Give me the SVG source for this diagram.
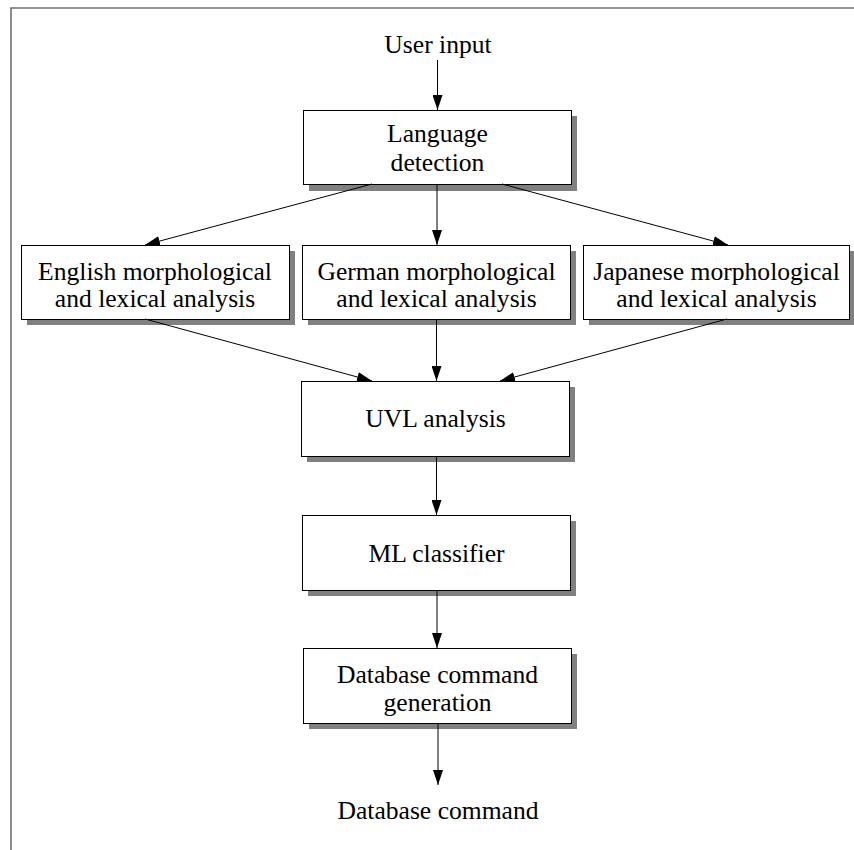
<svg xmlns="http://www.w3.org/2000/svg" width="854" height="850" viewBox="0 0 854 850">
<defs>
<style>
.box rect.b{fill:#fff;stroke:#000;stroke-width:1}
.box rect.s{fill:#808080;stroke:none}
text{font-family:"Liberation Serif","Times New Roman",serif;font-size:25.6px;fill:#000;text-anchor:middle}
#edges line{stroke:#000;stroke-width:1;marker-end:url(#ah)}
</style>
<marker id="ah" markerUnits="userSpaceOnUse" markerWidth="15" markerHeight="10" refX="15" refY="5" orient="auto">
<path d="M0,0 L15,5 L0,10 z" fill="#000"/>
</marker>
</defs>
<rect width="854" height="850" fill="#fff"/>
<path d="M11,850 V8 H854" fill="none" stroke="#707070" stroke-width="1.6"/>

<g id="user-input"><text x="438" y="53">User input</text></g>

<g id="lang" class="box">
<rect class="s" x="309" y="116" width="268" height="75"/>
<rect class="b" x="303.5" y="110.5" width="268" height="74"/>
<text x="437.5" y="142">Language</text>
<text x="437.5" y="171">detection</text>
</g>

<g id="english" class="box">
<rect class="s" x="27" y="251" width="268" height="74"/>
<rect class="b" x="21.5" y="245.5" width="268" height="74"/>
<text x="155" y="280">English morphological</text>
<text x="155" y="307">and lexical analysis</text>
</g>

<g id="german" class="box">
<rect class="s" x="308" y="251" width="268" height="74"/>
<rect class="b" x="302.5" y="245.5" width="268" height="74"/>
<text x="436.5" y="280">German morphological</text>
<text x="436.5" y="307">and lexical analysis</text>
</g>

<g id="japanese" class="box">
<rect class="s" x="589" y="251" width="266" height="74"/>
<rect class="b" x="583.5" y="245.5" width="266" height="74"/>
<text x="716.5" y="280">Japanese morphological</text>
<text x="716.5" y="307">and lexical analysis</text>
</g>

<g id="uvl" class="box">
<rect class="s" x="307" y="387" width="268" height="75"/>
<rect class="b" x="301.5" y="381.5" width="268" height="75"/>
<text x="435.5" y="427">UVL analysis</text>
</g>

<g id="ml" class="box">
<rect class="s" x="308" y="521" width="268" height="75"/>
<rect class="b" x="302.5" y="515.5" width="268" height="75"/>
<text x="436.5" y="562">ML classifier</text>
</g>

<g id="dbgen" class="box">
<rect class="s" x="309" y="654" width="268" height="75"/>
<rect class="b" x="303.5" y="648.5" width="268" height="75"/>
<text x="437.5" y="683">Database command</text>
<text x="437.5" y="711">generation</text>
</g>

<g id="dbcmd"><text x="438" y="819">Database command</text></g>

<g id="edges">
<line x1="437.5" y1="60" x2="437.5" y2="110"/>
<line x1="372" y1="184" x2="145" y2="245"/>
<line x1="437" y1="184" x2="437" y2="245"/>
<line x1="502" y1="184" x2="728" y2="245"/>
<line x1="145" y1="319" x2="372" y2="381"/>
<line x1="436.5" y1="319" x2="436.5" y2="381"/>
<line x1="727" y1="319" x2="500" y2="381"/>
<line x1="436.5" y1="456" x2="436.5" y2="515"/>
<line x1="437" y1="590" x2="437" y2="648"/>
<line x1="438" y1="723" x2="438" y2="785"/>
</g>
</svg>
